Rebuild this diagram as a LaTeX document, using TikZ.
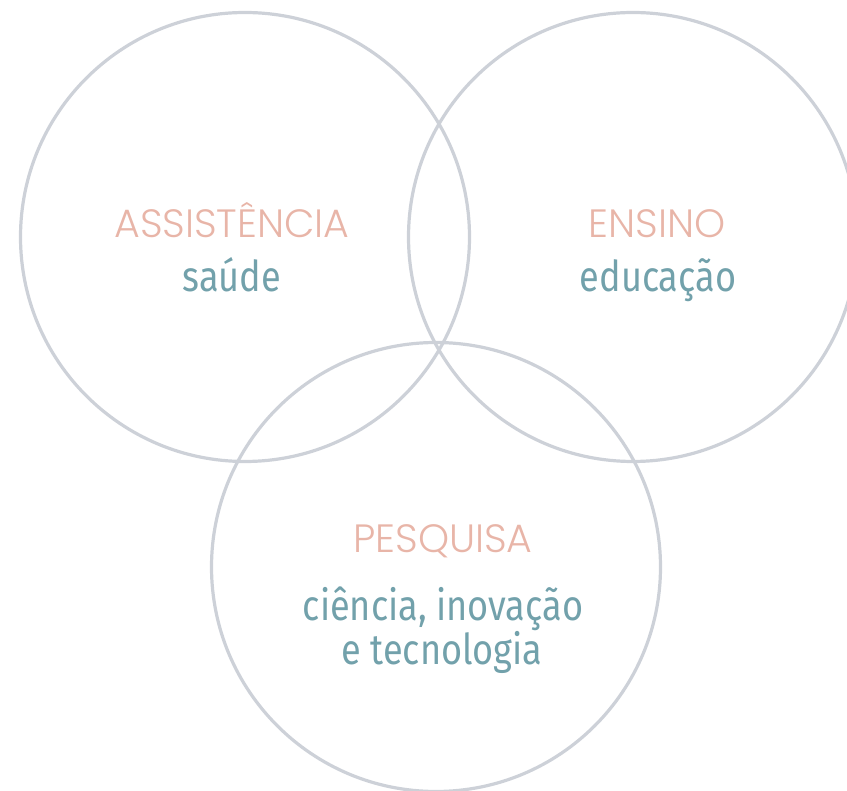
\documentclass[tikz,border=0pt]{standalone}
\usepackage{fontspec}
\newfontfamily\capfont{Poppins Light}
\newfontfamily\lowfont{Fira Sans}[FakeStretch=0.85]
\definecolor{ringgray}{HTML}{CDD1D8}
\definecolor{salmon}{HTML}{E8B5A8}
\definecolor{teal}{HTML}{72A1AB}
\begin{document}
\begin{tikzpicture}[x=1pt,y=-1pt,
  ring/.style={draw=ringgray,line width=3.2pt},
  captext/.style={anchor=base,text=salmon,font=\capfont\fontsize{39.5}{45}\selectfont,inner sep=0pt},
  lowtext/.style={anchor=base,text=teal,font=\lowfont\fontsize{42.5}{45}\selectfont,inner sep=0pt}]
\useasboundingbox (0,0) rectangle (847,791);
\clip (0,0) rectangle (847,791);
\node[ring,circle,minimum size=449pt,inner sep=0pt] (assist) at (245,237) {};
\node[ring,circle,minimum size=449pt,inner sep=0pt] (ensino) at (633,237) {};
\node[ring,circle,minimum size=449pt,inner sep=0pt] (pesq) at (436,567) {};
\node[captext] (t1) at (232,238) {ASSISTÊNCIA};
\node[lowtext] (s1) at (232,292) {saúde};
\node[captext] (t2) at (657,238) {ENSINO};
\node[lowtext] (s2) at (658,292) {educação};
\node[captext] (t3) at (443,553) {PESQUISA};
\node[lowtext] (s3) at (443,620) {ciência, inovação};
\node[lowtext] (s4) at (442,664) {e tecnologia};
\end{tikzpicture}
\end{document}
